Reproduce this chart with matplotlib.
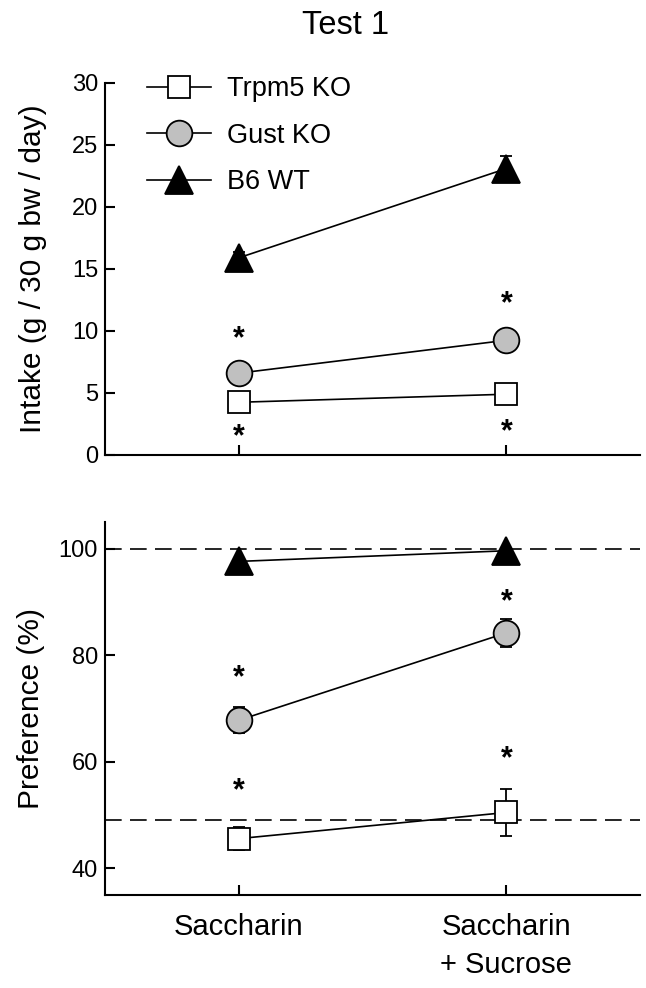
import numpy as np
import matplotlib
matplotlib.use('Agg')
from matplotlib import pyplot as plt
from matplotlib.lines import Line2D

plt.rcParams['font.family'] = ['Liberation Sans', 'DejaVu Sans']

# data
groups = ['Trpm5 KO', 'Gust KO', 'B6 WT']
categories = ['Saccharin', 'Saccharin\n+ Sucrose']
intake_mean = {'Trpm5 KO': [4.25, 4.9], 'Gust KO': [6.6, 9.25], 'B6 WT': [15.9, 23.1]}
intake_err = {'Trpm5 KO': [0.3, 0.3], 'Gust KO': [0.4, 0.5], 'B6 WT': [0.5, 1.05]}
pref_mean = {'Trpm5 KO': [45.6, 50.5], 'Gust KO': [67.8, 84.2], 'B6 WT': [97.6, 99.6]}
pref_err = {'Trpm5 KO': [2.2, 4.5], 'Gust KO': [2.4, 2.6], 'B6 WT': [0.5, 0.4]}
intake_stars = [[9.76, 1.85], [12.6, 2.25]]   # per category
pref_stars = [[76.6, 55.4], [90.9, 61.4]]
ref_lines = [100, 49]

styles = {'Trpm5 KO': dict(marker='s', mfc='white', ms=16),
          'Gust KO': dict(marker='o', mfc='#c0c0c0', ms=18.5),
          'B6 WT': dict(marker='^', mfc='black', ms=20)}

x = np.array([1, 2])

fig = plt.figure(figsize=(6.46, 9.88), dpi=100)
ax1 = fig.add_axes([0.1625, 0.5395, 0.8285, 0.3765])
ax2 = fig.add_axes([0.1625, 0.094, 0.8285, 0.3777])

def style_axis(ax):
    for s in ['top', 'right']:
        ax.spines[s].set_visible(False)
    for s in ['left', 'bottom']:
        ax.spines[s].set_linewidth(1.5)
    ax.tick_params(direction='in', length=7, width=1.5, labelsize=17, pad=5)
    ax.set_xlim(0.5, 2.5)
    ax.set_xticks(x)

def star(ax, xs, yv):
    # asterisk glyph sits high in the text box, shift so its middle lands on yv
    ax.annotate('*', xy=(xs, yv), xytext=(0, -9.5), textcoords='offset points',
                ha='center', va='baseline', fontsize=22, fontweight='bold')

def draw(ax, means, errs):
    for g in groups:
        ax.errorbar(x, means[g], yerr=errs[g], fmt='none', ecolor='black',
                    elinewidth=1.3, capsize=4.5, capthick=1.3, zorder=2)
        ax.plot(x, means[g], color='black', lw=1.2, mec='black', mew=1.3,
                zorder=3, **styles[g])

draw(ax1, intake_mean, intake_err)
draw(ax2, pref_mean, pref_err)

for i, xs in enumerate(x):
    for yv in intake_stars[i]:
        star(ax1, xs, yv)
    for yv in pref_stars[i]:
        star(ax2, xs, yv)

for yv in ref_lines:
    ax2.axhline(yv, color='black', lw=1.2, ls=(0, (10, 5)), zorder=0)

style_axis(ax1)
ax1.set_ylim(0, 30)
ax1.set_yticks([0, 5, 10, 15, 20, 25, 30])
ax1.set_xticklabels([])
ax1.set_ylabel('Intake (g / 30 g bw / day)', fontsize=21.5, labelpad=18)
handles = [Line2D([], [], color='black', lw=1.2, mec='black', mew=1.3, **styles[g])
           for g in groups]
ax1.legend(handles, groups, loc='upper left', bbox_to_anchor=(0.053, 1.055),
           frameon=False, fontsize=19.5, handlelength=2.37, handletextpad=0.6,
           labelspacing=0.76, borderpad=0)
ax1.set_title('Test 1', fontsize=23.5, pad=35, x=0.45)

style_axis(ax2)
ax2.set_ylim(35, 105)
ax2.set_yticks([40, 60, 80, 100])
ax2.set_xticklabels(categories, fontsize=21, linespacing=1.45)
ax2.tick_params(axis='x', pad=13)
ax2.set_ylabel('Preference (%)', fontsize=21.5, labelpad=10)

plt.savefig('out.png', dpi=100)
